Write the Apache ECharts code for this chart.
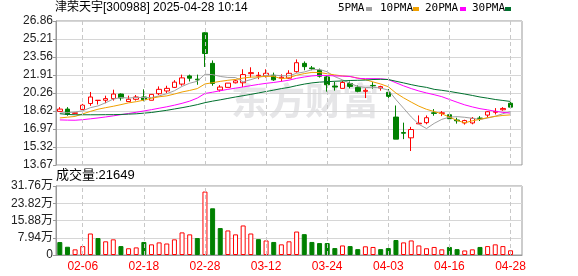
<!DOCTYPE html>
<html><head><meta charset="utf-8">
<script src="https://cdn.jsdelivr.net/npm/echarts@6/dist/echarts.min.js"></script>
<style>html,body{margin:0;padding:0;background:#fff}#c{width:578px;height:276px}</style>
</head><body><div id="c"></div>
<script>
const dates = ['01-24','01-27','02-05','02-06','02-07','02-10','02-11','02-12','02-13','02-14',
 '02-17','02-18','02-19','02-20','02-21','02-24','02-25','02-26','02-27','02-28',
 '03-03','03-04','03-05','03-06','03-07','03-10','03-11','03-12','03-13','03-14',
 '03-17','03-18','03-19','03-20','03-21','03-24','03-25','03-26','03-27','03-28',
 '03-31','04-01','04-02','04-03','04-07','04-08','04-09','04-10','04-11','04-14',
 '04-15','04-16','04-17','04-18','04-21','04-22','04-23','04-24','04-25','04-28'];
const opens = [18.58,18.79,18.40,18.76,19.30,19.58,19.60,19.75,20.17,19.48,
 19.69,19.90,19.60,20.20,20.45,20.78,21.08,21.83,21.53,25.78,
 22.98,20.54,20.78,21.20,21.20,22.04,21.83,21.83,21.89,21.62,
 21.62,22.22,22.98,22.56,22.35,21.74,20.90,20.69,21.14,20.78,
 20.42,20.96,20.72,20.33,18.06,16.64,16.16,17.44,17.55,18.45,
 18.40,18.27,17.79,17.52,17.52,17.97,18.24,18.50,18.73,19.33];
const closes = [18.79,18.30,18.45,19.15,19.90,19.60,19.75,20.17,19.81,19.69,
 19.90,19.66,20.14,20.60,20.69,21.26,21.65,21.62,21.47,23.88,
 21.14,20.81,21.17,21.38,21.95,22.13,21.89,22.07,21.47,21.71,
 22.07,23.04,22.68,22.50,21.80,21.02,20.81,21.23,20.87,20.42,
 20.51,20.93,20.85,19.96,16.04,16.58,16.92,17.50,18.00,18.40,
 18.45,17.91,17.72,17.74,17.94,17.91,18.55,18.58,18.85,18.97];
const lows = [18.58,18.18,18.38,18.73,19.09,19.21,19.33,19.57,19.57,19.48,
 19.57,19.51,19.60,20.08,20.26,20.72,20.93,21.32,21.02,22.65,
 20.93,20.39,20.78,21.14,20.81,21.68,21.53,21.68,21.38,21.32,
 21.56,22.13,22.35,22.35,21.68,20.39,20.48,20.69,20.69,20.33,
 19.80,20.66,20.48,19.81,16.04,16.04,14.95,17.44,17.40,18.18,
 18.15,17.52,17.46,17.37,17.40,17.70,18.00,18.30,18.64,18.91];
const highs = [18.97,18.97,18.50,19.27,20.36,19.62,20.02,20.57,20.23,20.02,
 20.08,20.60,20.14,20.87,20.93,21.44,21.95,21.95,21.95,25.84,
 23.25,20.99,21.17,21.50,22.44,22.62,22.19,22.44,22.13,21.98,
 22.35,23.34,23.16,22.74,22.50,21.83,21.29,21.38,21.32,20.96,
 20.70,21.26,20.93,20.63,19.12,17.55,17.16,18.21,18.21,18.79,
 18.61,18.43,18.00,17.82,18.06,18.15,18.61,18.88,18.97,19.45];
// volume in 万 (10k shares)
const volumes = [5.96,3.8,2.6,4.1,9.9,7.8,6.3,7.2,4.1,3.1,
 3.5,6.0,4.9,5.8,5.3,7.2,10.4,9.5,7.8,29.2,
 21.5,12.4,11.3,9.5,13.6,9.9,7.3,6.7,6.0,4.9,
 6.3,10.8,9.6,6.0,5.5,5.5,3.2,4.4,4.1,2.7,
 4.0,3.7,2.7,3.2,6.9,5.8,6.7,4.4,3.1,3.7,
 2.6,3.7,2.7,2.1,2.6,3.7,4.1,4.9,4.1,2.16];
const volUp = [0,0,1,1,1,0,1,1,0,1, 1,0,1,1,1,1,1,1,0,1, 0,0,1,1,1,1,0,1,0,1,
 1,1,0,0,0,0,0,1,0,0, 1,1,0,0,0,1,1,1,1,1, 1,0,0,1,1,0,1,1,1,1];
const ma5 = [18.43,18.47,18.52,18.64,18.92,19.08,19.37,19.71,19.85,19.80,
 19.86,19.85,19.84,20.00,20.20,20.47,20.87,21.16,21.34,21.98,
 21.95,21.78,21.69,21.68,21.29,21.49,21.70,21.88,21.90,21.85,
 21.84,22.07,22.19,22.40,22.42,22.21,21.76,21.47,21.15,20.87,
 20.77,20.79,20.72,20.53,19.66,18.87,18.07,17.40,17.01,17.48,
 17.85,18.05,18.10,18.04,17.95,17.84,17.97,18.14,18.37,18.57];
const ma10 = [17.98,18.05,18.12,18.35,18.58,18.78,18.92,19.05,19.20,19.36,
 19.47,19.61,19.78,19.92,20.00,20.17,20.36,20.50,20.67,21.09,
 21.21,21.33,21.43,21.51,21.63,21.72,21.74,21.79,21.79,21.57,
 21.67,21.89,22.04,22.15,22.14,22.03,21.92,21.83,21.77,21.64,
 21.49,21.28,21.09,20.84,20.26,19.82,19.43,19.06,18.77,18.57,
 18.36,18.06,17.75,17.53,17.72,17.85,18.01,18.12,18.21,18.26];
const ma20 = [17.80,17.78,17.77,17.82,17.90,17.98,18.07,18.17,18.28,18.39,
 18.50,18.62,18.74,18.87,19.00,19.15,19.32,19.52,19.80,20.22,
 20.34,20.47,20.60,20.71,20.82,20.94,21.05,21.15,21.23,21.33,
 21.44,21.61,21.73,21.83,21.88,21.87,21.83,21.81,21.78,21.61,
 21.58,21.58,21.57,21.50,21.20,20.92,20.67,20.45,20.27,20.11,
 19.93,19.67,19.42,19.18,18.99,18.83,18.72,18.59,18.49,18.42];
const ma30 = [18.37,18.30,18.27,18.27,18.27,18.27,18.28,18.28,18.30,18.33,
 18.36,18.42,18.48,18.58,18.68,18.80,18.92,19.05,19.20,19.38,
 19.52,19.64,19.77,19.90,20.02,20.14,20.27,20.40,20.53,20.67,
 20.78,20.94,21.08,21.19,21.26,21.30,21.34,21.37,21.41,21.43,
 21.45,21.50,21.52,21.50,21.34,21.19,21.03,20.89,20.78,20.60,
 20.51,20.41,20.29,20.17,20.04,19.90,19.79,19.67,19.58,19.49];
const priceTicks = ['13.67','15.32','16.97','18.62','20.26','21.91','23.56','25.21','26.86'];
const volTicks = ['0','7.94万','15.88万','23.82万','31.76万'];
const xTickLabels = ['02-06','02-18','02-28','03-12','03-24','04-03','04-16','04-28'];
const titleText = '津荣天宇[300988] 2025-04-28 10:14';
const volTitle = '成交量:21649';
const watermark = '东方财富';
const maNames = ['5PMA','10PMA','20PMA','30PMA'];
const maColors = ['#a0a0a0','#f0a000','#ff00ff','#00702e'];

const cats = dates.concat(['']);
const pMin = 13.67, pMax = 26.86, pInt = (26.86 - 13.67) / 8;
const vMax = 31.76, vInt = 7.94;
const candle = opens.map((o, i) => [o, closes[i], lows[i], highs[i]]);
const volData = volumes.map((v, i) => ({
  value: v,
  itemStyle: volUp[i] ? {color: '#ffffff', borderColor: '#ff0000', borderWidth: 1}
                      : {color: '#008000', borderColor: '#008000', borderWidth: 1}
}));
const vLines = {
  silent: true, symbol: ['none', 'none'], label: {show: false}, animation: false,
  lineStyle: {type: [4, 3], color: '#c8c8c8', width: 1},
  emphasis: {disabled: true},
  data: xTickLabels.map(d => ({xAxis: d}))
};
const font = '"Liberation Sans", Arial, sans-serif';
const maSeries = [ma5, ma10, ma20, ma30].map((arr, k) => ({
  name: maNames[k], type: 'line', xAxisIndex: 0, yAxisIndex: 0, data: arr,
  symbol: 'none', showSymbol: false, silent: true, z: 4,
  lineStyle: {color: maColors[k], width: 1}
}));

const legendGraphics = [];
const legendX = [338, 380, 425, 472];
const legendBox = [366, 413, 460, 505];
maNames.forEach((n, k) => {
  legendGraphics.push({type: 'text', left: legendX[k], top: 3,
    style: {text: n, fill: '#000', font: '11px "DejaVu Sans Mono", monospace'}});
  legendGraphics.push({type: 'rect', left: legendBox[k], top: 7,
    shape: {width: 6, height: 4}, style: {fill: maColors[k]}});
});

const chart = echarts.init(document.getElementById('c'), null, {renderer: 'canvas'});
chart.setOption({
  animation: false,
  backgroundColor: '#ffffff',
  grid: [
    {left: 56, right: 56, top: 21, height: 144, show: true, borderColor: '#999', borderWidth: 1},
    {left: 56, right: 56, top: 186, height: 69, show: true, borderColor: '#999', borderWidth: 1}
  ],
  graphic: [
    {type: 'text', left: 231, top: 82, z: -10, silent: true,
     style: {text: watermark, fill: '#e6e6e8', font: 'bold 37px "Noto Sans CJK SC", sans-serif'}},
    {type: 'text', left: 55, top: 2,
     style: {text: titleText, fill: '#000', font: '12px ' + font + ', "Noto Sans CJK SC"'}},
    {type: 'text', left: 56, top: 169,
     style: {text: volTitle, fill: '#000', font: '13px ' + font + ', "Noto Sans CJK SC"'}}
  ].concat(legendGraphics),
  xAxis: [
    {type: 'category', gridIndex: 0, data: cats, boundaryGap: true,
     axisLine: {show: false}, axisTick: {show: false}, axisLabel: {show: false}, splitLine: {show: false}},
    {type: 'category', gridIndex: 1, data: cats, boundaryGap: true,
     axisLine: {show: true, lineStyle: {color: '#999'}}, axisTick: {show: false},
     axisLabel: {color: '#ff0000', fontSize: 12, fontFamily: font, margin: 6,
       interval: (i, v) => xTickLabels.indexOf(v) >= 0},
     splitLine: {show: false}}
  ],
  yAxis: [
    {type: 'value', gridIndex: 0, min: pMin, max: pMax, interval: pInt,
     axisLine: {show: true, lineStyle: {color: '#999'}},
     axisTick: {show: true, length: 3, lineStyle: {color: '#999'}},
     axisLabel: {color: '#222', fontSize: 12, fontFamily: font, margin: 3,
       formatter: v => priceTicks[Math.round((v - pMin) / pInt)]},
     splitLine: {show: true, lineStyle: {color: '#d6d6d6', width: 1}}},
    {type: 'value', gridIndex: 1, min: 0, max: vMax, interval: vInt,
     axisLine: {show: true, lineStyle: {color: '#999'}},
     axisTick: {show: true, length: 3, lineStyle: {color: '#999'}},
     axisLabel: {color: '#222', fontSize: 12, fontFamily: font + ', "Noto Sans CJK SC"', margin: 3,
       formatter: v => volTicks[Math.round(v / vInt)]},
     splitLine: {show: true, lineStyle: {color: '#d6d6d6', width: 1}}}
  ],
  series: [
    {type: 'candlestick', name: 'K', xAxisIndex: 0, yAxisIndex: 0, data: candle, barWidth: 5, z: 3,
     itemStyle: {color: '#ffffff', color0: '#008000', borderColor: '#ff0000', borderColor0: '#008000', borderWidth: 1},
     markLine: vLines}
  ].concat(maSeries).concat([
    {type: 'bar', name: 'VOL', xAxisIndex: 1, yAxisIndex: 1, data: volData, barWidth: 5, z: 3,
     markLine: vLines}
  ])
});
</script></body></html>
